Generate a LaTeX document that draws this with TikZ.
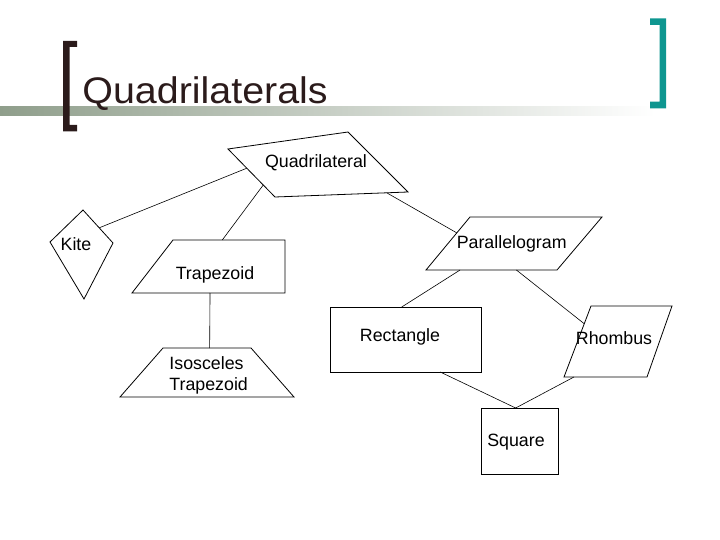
\documentclass[tikz,border=0pt]{standalone}
\usepackage{graphicx}
\usepackage{fontspec}
\setmainfont{Liberation Sans}
\usetikzlibrary{calc}
\definecolor{bruno}{HTML}{2B1B1B}
\definecolor{petrolio}{HTML}{0E9690}
\definecolor{salvia}{HTML}{8F9E8B}
\begin{document}
\begin{tikzpicture}[x=1pt, y=-1pt, line width=0.8pt,
	font=\fontsize{17.8}{21.5}\selectfont,
	lato/.style={draw=black, line width=0.8pt, line join=miter},
	ramo/.style={draw=black, line width=0.6pt},
	etic/.style={inner sep=0pt, anchor=base},
	]
	
	\useasboundingbox (0,0) rectangle (720,540);
	
	%% ── Intestazione ─────────────────────────────────────────────────────────
	\shade[left color=salvia, right color=white](0,107) rectangle (655,116);
	\fill[bruno](63,41)--(77,41)--(77,47)--(69.5,47)--(69.5,125)--(77,125)
		--(77,131.5)--(63,131.5)--cycle;
	\fill[petrolio](666,18.3)--(650,18.3)--(650,25)--(659.5,25)--(659.5,101.7)
		--(650,101.7)--(650,108.5)--(666,108.5)--cycle;
	\node[anchor=base west, inner sep=0pt, text=bruno,
		font=\fontsize{37}{40}\selectfont](titolo)at(82,104)
		{\scalebox{1.065}[1]{Quadrilaterals}};
	
	%% ── Vertici delle figure ─────────────────────────────────────────────────
	\coordinate(Q1)at(228,149); \coordinate(Q2)at(348,132);
	\coordinate(Q3)at(408,192); \coordinate(Q4)at(275,197);
	\coordinate(K1)at(83,210);  \coordinate(K2)at(113,243);
	\coordinate(K3)at(84,299);  \coordinate(K4)at(50,242);
	\coordinate(T1)at(173,240); \coordinate(T2)at(285,240);
	\coordinate(T3)at(285,293); \coordinate(T4)at(132,293);
	\coordinate(I1)at(163,348); \coordinate(I2)at(251,348);
	\coordinate(I3)at(294,397); \coordinate(I4)at(120,397);
	\coordinate(P1)at(470,217); \coordinate(P2)at(602,217);
	\coordinate(P3)at(557,270); \coordinate(P4)at(426,270);
	\coordinate(H1)at(591,306); \coordinate(H2)at(672,306);
	\coordinate(H3)at(647,377); \coordinate(H4)at(564,377);
	\coordinate(R1)at(330,307); \coordinate(R2)at(481,307);
	\coordinate(R3)at(481,372); \coordinate(R4)at(330,372);
	\coordinate(S1)at(481,408); \coordinate(S2)at(558,408);
	\coordinate(S3)at(558,474); \coordinate(S4)at(481,474);
	
	%% ── Figure ───────────────────────────────────────────────────────────────
	\foreach \f in {Q,K,T,I,P,H,R,S}
	\draw[lato](\f1)--(\f2)--(\f3)--(\f4)--cycle;
	
	%% ── Etichette ────────────────────────────────────────────────────────────
	\node[etic](quad)at(316,168){Quadrilateral};
	\node[etic](kite)at(76,251){Kite};
	\node[etic](trap)at(215,279.5){Trapezoid};
	\node[inner sep=0pt, anchor=north west, align=left](isos)at(169,356)
		{Isosceles\\Trapezoid};
	\node[etic](para)at(511.7,248.3){Parallelogram};
	\node[etic](rhom)at(614,344.3){Rhombus};
	\node[etic](rect)at(400,341.7){Rectangle};
	\node[etic](squa)at(516,446.7){Square};
	
	%% ── Collegamenti ─────────────────────────────────────────────────────────
	\coordinate(Sa)at($(S1)!0.45!(S2)$);
	\draw[ramo]($(Q1)!0.40!(Q4)$)--($(K1)!0.54!(K2)$);
	\draw[ramo]($(Q1)!0.75!(Q4)$)--($(T1)!0.44!(T2)$);
	\draw[ramo]($(Q4)!0.84!(Q3)$)--($(P1)!0.30!(P4)$);
	\draw[ramo]($(T4)!0.51!(T3)$)--($(I1)!0.53!(I2)$);
	\draw[ramo]($(P4)!0.26!(P3)$)--($(R1)!0.475!(R2)$);
	\draw[ramo]($(P4)!0.69!(P3)$)--($(H1)!0.25!(H4)$);
	\draw[ramo]($(R4)!0.73!(R3)$)--(Sa);
	\draw[ramo]($(H4)!0.12!(H3)$)--(Sa);
	
\end{tikzpicture}
\end{document}
